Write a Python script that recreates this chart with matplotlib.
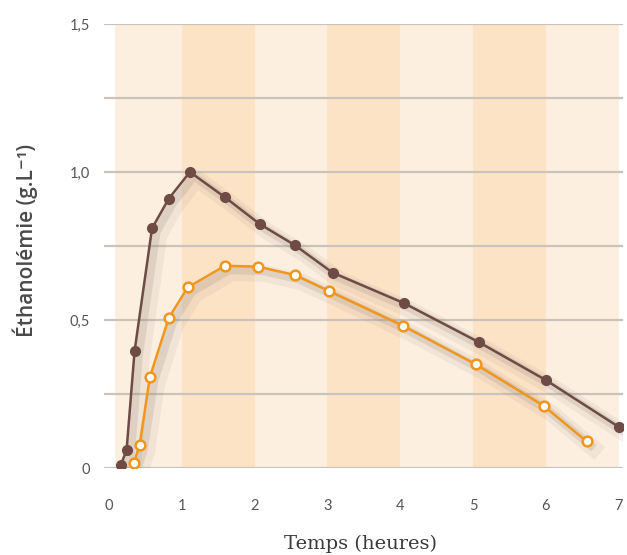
import matplotlib
matplotlib.use("Agg")
import matplotlib.pyplot as plt
import matplotlib.patheffects as pe

# Data (temps en heures, éthanolémie en g/L)
t_brown = [0.16, 0.24, 0.35, 0.59, 0.82, 1.11, 1.59, 2.07, 2.55, 3.07, 4.05, 5.08, 6.0, 7.0]
y_brown = [0.01, 0.06, 0.395, 0.81, 0.91, 1.0, 0.915, 0.824, 0.753, 0.66, 0.557, 0.425, 0.297, 0.139]

t_orange = [0.34, 0.42, 0.56, 0.82, 1.08, 1.59, 2.05, 2.55, 3.02, 4.04, 5.04, 5.97, 6.56]
y_orange = [0.017, 0.078, 0.307, 0.507, 0.61, 0.683, 0.68, 0.652, 0.598, 0.48, 0.35, 0.21, 0.09]

x_ticks = [0, 1, 2, 3, 4, 5, 6, 7]
y_ticks = [0, 0.5, 1.0, 1.5]
y_ticklabels = ["0", "0,5", "1,0", "1,5"]
y_grid = [0, 0.25, 0.5, 0.75, 1.0, 1.25, 1.5]

band_light = "#fdefe0"
band_dark = "#fde3c6"
brown = "#6e4b45"
orange = "#f0961c"

fig = plt.figure(figsize=(6.27, 5.55), dpi=100)
ax = fig.add_axes([104 / 627, 1 - 468 / 555, 519 / 627, 444 / 555])

# alternating hour bands
for h in range(7):
    ax.axvspan(h + (0.08 if h == 0 else 0), h + 1, color=band_dark if h % 2 else band_light, lw=0, zorder=0)

for g in y_grid:
    ax.axhline(g, color="#cbc3bb", lw=1.6, zorder=1)

shadow = [pe.SimpleLineShadow(offset=(5, -5), shadow_color="#8a8078", alpha=0.10, linewidth=12),
          pe.SimpleLineShadow(offset=(3, -3), shadow_color="#8a8078", alpha=0.18, linewidth=6),
          pe.Normal()]

ax.plot(t_brown, y_brown, color=brown, lw=1.8, zorder=3, path_effects=shadow)
ax.plot(t_brown, y_brown, ls="none", marker="o", ms=7, color=brown, zorder=4)

ax.plot(t_orange, y_orange, color=orange, lw=1.8, zorder=3, path_effects=shadow)
ax.plot(t_orange, y_orange, ls="none", marker="o", ms=7, mfc="white", mec=orange, mew=1.8, zorder=4)

ax.set_xlim(-0.07, 7.06)
ax.set_ylim(0, 1.5)
ax.set_xticks(x_ticks)
ax.set_xticklabels([str(v) for v in x_ticks])
ax.set_yticks(y_ticks)
ax.set_yticklabels(y_ticklabels)
ax.tick_params(length=0, labelsize=10.5, labelcolor="#555555")
ax.tick_params(axis="x", pad=22)
ax.tick_params(axis="y", pad=10)
for lab in ax.get_xticklabels() + ax.get_yticklabels():
    lab.set_family("Lato")
for s in ax.spines.values():
    s.set_visible(False)

fig.text(361 / 627, 1 - 544 / 555, "Temps (heures)", ha="center", va="center",
         family="DejaVu Serif", fontsize=14, color="#3a3a3a")
fig.text(25 / 627, 1 - 240 / 555, "Éthanolémie (g.L⁻¹)", ha="center", va="center",
         rotation=90, family=["Open Sans", "DejaVu Sans"], fontsize=15, fontweight="semibold",
         color="#4a4a4a")

fig.savefig("out.png", dpi=100)
